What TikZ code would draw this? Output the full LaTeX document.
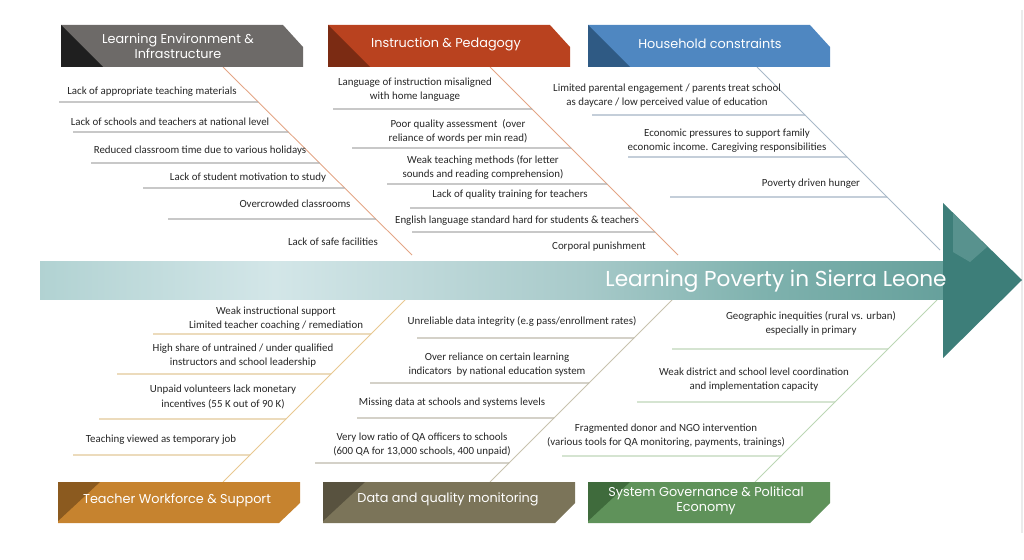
\documentclass[tikz,border=0pt]{standalone}
\usepackage{fontspec}
\setmainfont{Carlito}
\newfontfamily\headfont{Poppins}
\usetikzlibrary{calc, positioning}

\definecolor{envfill}{HTML}{6D6A68}
\definecolor{envdark}{HTML}{1F1F1F}
\definecolor{insfill}{HTML}{B9421F}
\definecolor{insdark}{HTML}{7B2B13}
\definecolor{houfill}{HTML}{4F87C1}
\definecolor{houdark}{HTML}{2F5A84}
\definecolor{teafill}{HTML}{C6832F}
\definecolor{teadark}{HTML}{8B5A1F}
\definecolor{datfill}{HTML}{7B7459}
\definecolor{datdark}{HTML}{58523F}
\definecolor{govfill}{HTML}{5F925A}
\definecolor{govdark}{HTML}{3F6B3C}

\definecolor{salmonbone}{HTML}{E3A585}
\definecolor{bluebone}{HTML}{A8B8C8}
\definecolor{tanbone}{HTML}{E8C890}
\definecolor{khakibone}{HTML}{C8C2AE}
\definecolor{greenbone}{HTML}{BCD6B4}
\definecolor{grayrib}{HTML}{ABABAB}
\definecolor{bluerib}{HTML}{A4B4C4}
\definecolor{tanrib}{HTML}{E2C898}
\definecolor{khakirib}{HTML}{BDB8AA}
\definecolor{greenrib}{HTML}{BFD6B8}

\definecolor{spA}{HTML}{70ACA8}
\definecolor{spB}{HTML}{D3E6E8}
\definecolor{spC}{HTML}{A8CACA}
\definecolor{spD}{HTML}{7FB2AE}
\definecolor{spE}{HTML}{4E8F8A}
\definecolor{spF}{HTML}{3F807B}
\definecolor{headteal}{HTML}{3D7E79}
\definecolor{headlight}{HTML}{8CBAB6}

\pgfdeclarehorizontalshading{spineshade}{100bp}{color(0bp)=(spA); color(38bp)=(spB); color(55bp)=(spC); color(65bp)=(spD); color(85bp)=(spE); color(100bp)=(spF)}

\tikzset{
	cause/.style={font=\fontsize{6.2}{8}\selectfont, text=black!85, align=center, inner sep=0pt},
	headtext/.style={font=\headfont\fontsize{7.3}{8.6}\selectfont, text=white, align=center, inner sep=0pt},
	bone/.style={line width=0.5pt},
	rib/.style={line width=0.6pt}
}

\begin{document}
\begin{tikzpicture}[x=0.02cm, y=-0.02cm]
	\useasboundingbox (0,0) rectangle (1024,560);
	\draw[black!8, line width=0.6pt] (1022,10) -- (1022,533);

	% bones
	\coordinate (envTop) at (223,67);
	\coordinate (envEnd) at (412,255);
	\coordinate (insTop) at (490,67);
	\coordinate (insEnd) at (678,255);
	\coordinate (houTop) at (757,67);
	\coordinate (houEnd) at (940,250);
	\coordinate (teaTop) at (223,482);
	\coordinate (teaEnd) at (412,293);
	\coordinate (datTop) at (490,482);
	\coordinate (datEnd) at (680,292);
	\coordinate (govTop) at (755,482);
	\coordinate (govEnd) at (937,300);

	\draw[bone, salmonbone] (envTop) -- (envEnd);
	\draw[bone, salmonbone] (insTop) -- (insEnd);
	\draw[bone, bluebone] (houTop) -- (houEnd);
	\draw[bone, tanbone] (teaTop) -- (teaEnd);
	\draw[bone, khakibone] (datTop) -- (datEnd);
	\draw[bone, greenbone] (govTop) -- (govEnd);

	% spine
	\shade[shading=spineshade] (40,262) rectangle (943,300);
	\fill[headteal] (943,203) -- (1022,280) -- (943,358) -- cycle;
	\fill[headlight, opacity=0.35] (953,213) -- (987,247) -- (970,262) -- (953,252) -- cycle;
	\node[font=\headfont\fontsize{12.3}{13}\selectfont, text=white, inner sep=0pt] (effect) at (776,281) {Learning Poverty in Sierra Leone};

	% headers top
	\fill[envfill] (61,25) -- (283,25) -- (303,47) -- (303,67) -- (61,67) -- cycle;
	\fill[envdark] (61,25) -- (103,67) -- (61,67) -- cycle;
	\node[headtext] (env) at (178,46) {Learning Environment \&\\Infrastructure};

	\fill[insfill] (328,25) -- (550,25) -- (570,47) -- (570,67) -- (328,67) -- cycle;
	\fill[insdark] (328,25) -- (370,67) -- (328,67) -- cycle;
	\node[headtext] (ins) at (446,44) {Instruction \& Pedagogy};

	\fill[houfill] (588,25) -- (810,25) -- (830,47) -- (830,67) -- (588,67) -- cycle;
	\fill[houdark] (588,25) -- (630,67) -- (588,67) -- cycle;
	\node[headtext] (hou) at (710,44) {Household constraints};

	% headers bottom
	\fill[teafill] (58,482) -- (300,482) -- (300,503) -- (279,523) -- (58,523) -- cycle;
	\fill[teadark] (58,482) -- (100,482) -- (58,521) -- cycle;
	\node[headtext] (tea) at (177,500) {Teacher Workforce \& Support};

	\fill[datfill] (323,482) -- (575,482) -- (575,503) -- (555,523) -- (323,523) -- cycle;
	\fill[datdark] (323,482) -- (365,482) -- (323,521) -- cycle;
	\node[headtext] (dat) at (448,499) {Data and quality monitoring};

	\fill[govfill] (588,482) -- (830,482) -- (830,503) -- (810,523) -- (588,523) -- cycle;
	\fill[govdark] (588,482) -- (630,482) -- (588,521) -- cycle;
	\node[headtext] (gov) at (706,501) {System Governance \& Political\\Economy};

	% ribs
	\foreach \i/\y/\xa in {1/102/59, 2/132/73, 3/163/91, 4/188/143, 5/219/168} {
		\coordinate (envR\i) at (\xa,\y);
		\draw[rib, grayrib] (envR\i) -- ($(envTop)!{(\y-67)/188}!(envEnd)$);
	}
	\foreach \i/\y/\xa in {1/109/333, 2/148/352, 3/184/387, 4/208/410, 5/232/412} {
		\coordinate (insR\i) at (\xa,\y);
		\draw[rib, grayrib] (insR\i) -- ($(insTop)!{(\y-67)/188}!(insEnd)$);
	}
	\foreach \i/\y/\xa in {1/115/592, 2/157/628, 3/197/670} {
		\coordinate (houR\i) at (\xa,\y);
		\draw[rib, bluerib] (houR\i) -- ($(houTop)!{(\y-67)/183}!(houEnd)$);
	}
	\foreach \i/\y/\xa in {1/334/153, 2/374/117, 3/419/99, 4/455/73} {
		\coordinate (teaR\i) at (\xa,\y);
		\draw[rib, tanrib] (teaR\i) -- ($(teaTop)!{(482-\y)/189}!(teaEnd)$);
	}
	\foreach \i/\y/\xa in {1/338/417, 2/383/370, 3/418/357, 4/463/315} {
		\coordinate (datR\i) at (\xa,\y);
		\draw[rib, khakirib] (datR\i) -- ($(datTop)!{(482-\y)/190}!(datEnd)$);
	}
	\foreach \i/\y/\xa in {1/349/672, 2/402/637, 3/456/562} {
		\coordinate (govR\i) at (\xa,\y);
		\draw[rib, greenrib] (govR\i) -- ($(govTop)!{(482-\y)/182}!(govEnd)$);
	}

	% causes
	\node[cause] (env1) at (152,92) {Lack of appropriate teaching materials};
	\node[cause] (env2) at (170,122) {Lack of schools and teachers at national level};
	\node[cause] (env3) at (200,151) {Reduced classroom time due to various holidays};
	\node[cause] (env4) at (248,178) {Lack of student motivation to study};
	\node[cause] (env5) at (295,204) {Overcrowded classrooms};
	\node[cause] (env6) at (333,242) {Lack of safe facilities};

	\node[cause] (ins1) at (415,90) {Language of instruction misaligned\\with home language};
	\node[cause] (ins2) at (458,131) {Poor quality assessment ~(over\\reliance of words per min read)};
	\node[cause] (ins3) at (483,167) {Weak teaching methods (for letter\\sounds and reading comprehension)};
	\node[cause] (ins4) at (510,195) {Lack of quality training for teachers};
	\node[cause] (ins5) at (517,221) {English language standard hard for students \& teachers};
	\node[cause] (ins6) at (599,247) {Corporal punishment};

	\node[cause] (hou1) at (667,96) {Limited parental engagement / parents treat school\\as daycare / low perceived value of education};
	\node[cause] (hou2) at (727,141) {Economic pressures to support family\\economic income. Caregiving responsibilities};
	\node[cause] (hou3) at (811,184) {Poverty driven hunger};

	\node[cause] (tea1) at (276,319) {Weak instructional support\\Limited teacher coaching / remediation};
	\node[cause] (tea2) at (243,356) {High share of untrained / under qualified\\instructors and school leadership};
	\node[cause] (tea3) at (223,397) {Unpaid volunteers lack monetary\\incentives (55 K out of 90 K)};
	\node[cause] (tea4) at (161,440) {Teaching viewed as temporary job};

	\node[cause] (dat1) at (522,321) {Unreliable data integrity (e.g pass/enrollment rates)};
	\node[cause] (dat2) at (497,365) {Over reliance on certain learning\\indicators ~by national education system};
	\node[cause] (dat3) at (452,403) {Missing data at schools and systems levels};
	\node[cause] (dat4) at (422,445) {Very low ratio of QA officers to schools\\(600 QA for 13,000 schools, 400 unpaid)};

	\node[cause] (gov1) at (811,323) {Geographic inequities (rural vs. urban)\\especially in primary};
	\node[cause] (gov2) at (754,380) {Weak district and school level coordination\\and implementation capacity};
	\node[cause] (gov3) at (666,436) {Fragmented donor and NGO intervention\\(various tools for QA monitoring, payments, trainings)};
\end{tikzpicture}
\end{document}
